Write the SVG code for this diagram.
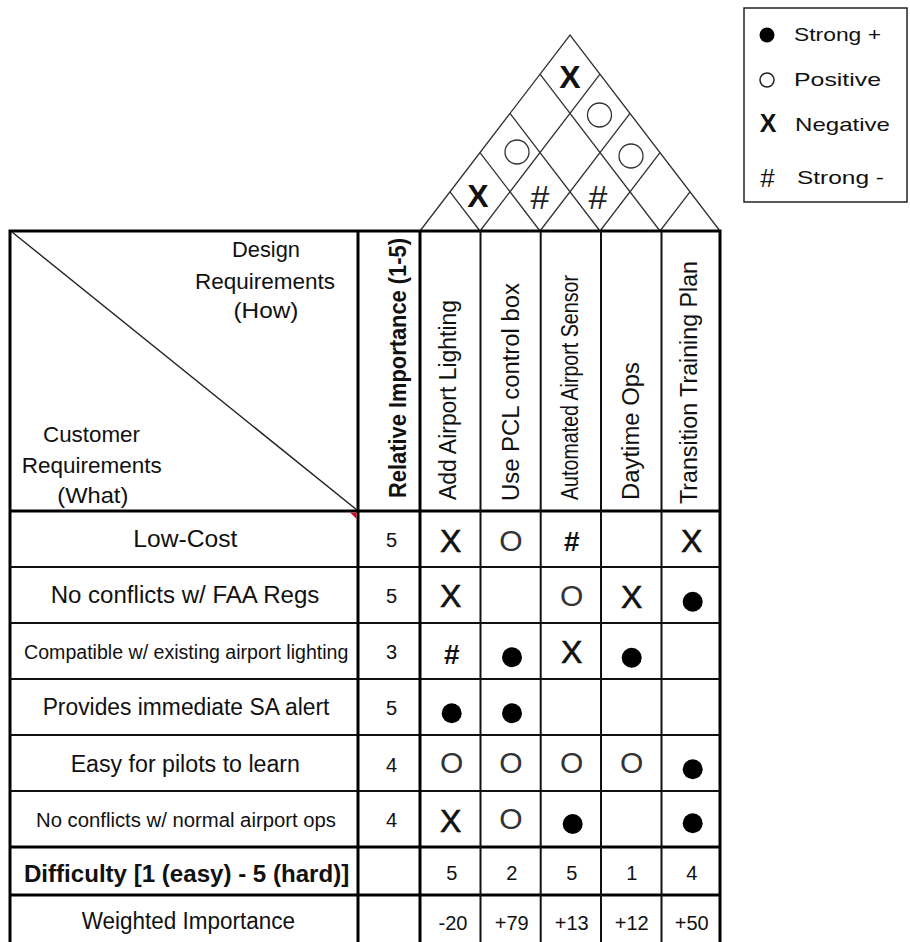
<svg xmlns="http://www.w3.org/2000/svg" width="910" height="942" viewBox="0 0 910 942">
<style>
text{font-family:"Liberation Sans",Arial,sans-serif;fill:#111}
.hd{font-size:22px;text-anchor:middle}
.lbl{font-size:23px;text-anchor:middle}
.sm{font-size:20px;text-anchor:middle}
.num{font-size:20px;text-anchor:middle}
.vt{font-size:23.5px}
.sx{font-size:32px;text-anchor:middle;stroke:#111;stroke-width:0.6}
.rx{font-size:32px;font-weight:bold;text-anchor:middle}
.so{font-size:30px;text-anchor:middle;fill:#333}
.sh{font-size:28px;font-weight:bold;text-anchor:middle}
.rh{font-size:34px;text-anchor:middle;fill:#222}
.lg{font-size:19px}
.thin{stroke:#111;stroke-width:2;fill:none}
.thick{stroke:#000;stroke-width:3;fill:none}
.roof{stroke:#333;stroke-width:1.3;fill:none}
.dot{fill:#000}
</style>
<rect width="910" height="942" fill="#fff"/>

<g id="roof">
<polyline class="roof" points="420,231 570,35 720,231"/>
<line class="roof" x1="480" y1="231" x2="600" y2="74.2"/>
<line class="roof" x1="540" y1="231" x2="630" y2="113.4"/>
<line class="roof" x1="600" y1="231" x2="660" y2="152.6"/>
<line class="roof" x1="660" y1="231" x2="690" y2="191.8"/>
<line class="roof" x1="660" y1="231" x2="540" y2="74.2"/>
<line class="roof" x1="600" y1="231" x2="510" y2="113.4"/>
<line class="roof" x1="540" y1="231" x2="480" y2="152.6"/>
<line class="roof" x1="480" y1="231" x2="450" y2="191.8"/>
<text class="rx" x="570" y="88">X</text>
<text class="rx" x="478" y="206.5">X</text>
<text class="rh" x="540" y="209">#</text>
<text class="rh" x="598" y="209">#</text>
<circle class="roof" cx="517" cy="152" r="12" stroke-width="1.5"/>
<circle class="roof" cx="599.5" cy="115" r="12" stroke-width="1.5"/>
<circle class="roof" cx="631" cy="156" r="12" stroke-width="1.5"/>
</g>

<g id="legend">
<rect x="744" y="8" width="163" height="194" fill="#fff" stroke="#222" stroke-width="1.5"/>
<circle cx="767" cy="35" r="7.5" fill="#000"/>
<text class="lg" x="794" y="41" textLength="87" lengthAdjust="spacingAndGlyphs">Strong +</text>
<circle cx="767" cy="80" r="7" fill="none" stroke="#222" stroke-width="1.5"/>
<text class="lg" x="794" y="86" textLength="87" lengthAdjust="spacingAndGlyphs">Positive</text>
<text x="768" y="132" font-size="25" font-weight="bold" text-anchor="middle">X</text>
<text class="lg" x="795" y="131" textLength="95" lengthAdjust="spacingAndGlyphs">Negative</text>
<text x="767.5" y="187" font-size="26" text-anchor="middle">#</text>
<text class="lg" x="797" y="184" textLength="87" lengthAdjust="spacingAndGlyphs">Strong -</text>
</g>

<g id="grid">
<rect x="10" y="231" width="710" height="714" class="thick"/>
<line class="thick" x1="10" y1="511" x2="720" y2="511"/>
<line class="thin" x1="10" y1="567" x2="720" y2="567"/>
<line class="thin" x1="10" y1="623" x2="720" y2="623"/>
<line class="thin" x1="10" y1="679" x2="720" y2="679"/>
<line class="thin" x1="10" y1="735" x2="720" y2="735"/>
<line class="thin" x1="10" y1="791" x2="720" y2="791"/>
<line class="thick" x1="10" y1="847" x2="720" y2="847"/>
<line class="thick" x1="10" y1="895" x2="720" y2="895"/>
<line class="thick" x1="358" y1="231" x2="358" y2="945"/>
<line class="thick" x1="420" y1="231" x2="420" y2="945"/>
<line class="thin" x1="480.5" y1="231" x2="480.5" y2="945" stroke-width="2.3"/>
<line class="thin" x1="540.7" y1="231" x2="540.7" y2="945" stroke-width="2.3"/>
<line class="thin" x1="601" y1="231" x2="601" y2="945" stroke-width="2.3"/>
<line class="thin" x1="661.5" y1="231" x2="661.5" y2="945" stroke-width="2.3"/>
<line x1="12" y1="232" x2="357" y2="510" stroke="#222" stroke-width="1.4"/>
<polygon points="350,512.5 356.5,512.5 356.5,519" fill="#c8102e"/>
</g>

<g id="header">
<text class="hd" x="266" y="257" textLength="68" lengthAdjust="spacingAndGlyphs">Design</text>
<text class="hd" x="265" y="289" textLength="140" lengthAdjust="spacingAndGlyphs">Requirements</text>
<text class="hd" x="266" y="318" textLength="65" lengthAdjust="spacingAndGlyphs">(How)</text>
<text class="hd" x="91.5" y="442" textLength="97" lengthAdjust="spacingAndGlyphs">Customer</text>
<text class="hd" x="91.7" y="473" textLength="140" lengthAdjust="spacingAndGlyphs">Requirements</text>
<text class="hd" x="92.8" y="503" textLength="71" lengthAdjust="spacingAndGlyphs">(What)</text>
<text class="vt" font-weight="bold" transform="translate(406,498) rotate(-90)" textLength="260" lengthAdjust="spacingAndGlyphs">Relative Importance (1-5)</text>
<text class="vt" transform="translate(456,500) rotate(-90)" textLength="200" lengthAdjust="spacingAndGlyphs">Add Airport Lighting</text>
<text class="vt" transform="translate(519,501) rotate(-90)" textLength="218" lengthAdjust="spacingAndGlyphs">Use PCL control box</text>
<text class="vt" font-size="20px" transform="translate(578,500) rotate(-90)" textLength="225" lengthAdjust="spacingAndGlyphs">Automated Airport Sensor</text>
<text class="vt" transform="translate(639,500) rotate(-90)" textLength="138" lengthAdjust="spacingAndGlyphs">Daytime Ops</text>
<text class="vt" transform="translate(697,504) rotate(-90)" textLength="243" lengthAdjust="spacingAndGlyphs">Transition Training Plan</text>
</g>

<g id="row-low-cost">
<text class="lbl" x="185.3" y="547" textLength="104" lengthAdjust="spacingAndGlyphs">Low-Cost</text>
<text class="num" x="391.5" y="547">5</text>
<text class="sx" x="450.7" y="551.5">X</text>
<text class="so" x="511" y="551">O</text>
<text class="sh" x="571.7" y="551">#</text>
<text class="sx" x="691.7" y="551.5">X</text>
</g>

<g id="row-faa">
<text class="lbl" x="185" y="603.3" textLength="268.7" lengthAdjust="spacingAndGlyphs">No conflicts w/ FAA Regs</text>
<text class="num" x="391.5" y="603.3">5</text>
<text class="sx" x="450.7" y="606.5">X</text>
<text class="so" x="571.7" y="606">O</text>
<text class="sx" x="631.7" y="608">X</text>
<circle class="dot" cx="692.7" cy="601.7" r="10"/>
</g>

<g id="row-compatible">
<text class="sm" x="186.2" y="659" textLength="324.3" lengthAdjust="spacingAndGlyphs">Compatible w/ existing airport lighting</text>
<text class="num" x="391.5" y="659">3</text>
<text class="sh" x="451.7" y="664">#</text>
<circle class="dot" cx="512" cy="657.3" r="10"/>
<text class="sx" x="571.7" y="663">X</text>
<circle class="dot" cx="631.7" cy="657.7" r="10"/>
</g>

<g id="row-sa-alert">
<text class="lbl" x="186" y="715" textLength="286.7" lengthAdjust="spacingAndGlyphs">Provides immediate SA alert</text>
<text class="num" x="391.5" y="715">5</text>
<circle class="dot" cx="451.7" cy="713.3" r="10"/>
<circle class="dot" cx="512" cy="713.3" r="10"/>
</g>

<g id="row-easy">
<text class="lbl" x="185.3" y="771.7" textLength="229.3" lengthAdjust="spacingAndGlyphs">Easy for pilots to learn</text>
<text class="num" x="391.5" y="771.7">4</text>
<text class="so" x="451.7" y="772.5">O</text>
<text class="so" x="511" y="772.5">O</text>
<text class="so" x="571.7" y="772.5">O</text>
<text class="so" x="631.7" y="772.5">O</text>
<circle class="dot" cx="692.7" cy="769.3" r="10"/>
</g>

<g id="row-normal-ops">
<text class="sm" x="186" y="826.7" textLength="300" lengthAdjust="spacingAndGlyphs">No conflicts w/ normal airport ops</text>
<text class="num" x="391.5" y="826.7">4</text>
<text class="sx" x="450.7" y="831.5">X</text>
<text class="so" x="511" y="829">O</text>
<circle class="dot" cx="572.7" cy="824" r="10"/>
<circle class="dot" cx="692.7" cy="823.3" r="10"/>
</g>

<g id="row-difficulty">
<text class="lbl" font-weight="bold" x="186.6" y="881.7" textLength="325.3" lengthAdjust="spacingAndGlyphs">Difficulty [1 (easy) - 5 (hard)]</text>
<text class="num" font-size="18px" x="451.7" y="880">5</text>
<text class="num" font-size="18px" x="511.7" y="880">2</text>
<text class="num" font-size="18px" x="571.7" y="880">5</text>
<text class="num" font-size="18px" x="631.7" y="880">1</text>
<text class="num" font-size="18px" x="691.7" y="880">4</text>
</g>

<g id="row-weighted">
<text class="lbl" x="188.3" y="929" textLength="213.3" lengthAdjust="spacingAndGlyphs">Weighted Importance</text>
<text class="num" font-size="21px" x="453" y="930">-20</text>
<text class="num" font-size="21px" x="511.7" y="930">+79</text>
<text class="num" font-size="21px" x="571.7" y="930">+13</text>
<text class="num" font-size="21px" x="631.7" y="930">+12</text>
<text class="num" font-size="21px" x="691.7" y="930">+50</text>
</g>

<g id="connectors"></g>
</svg>
